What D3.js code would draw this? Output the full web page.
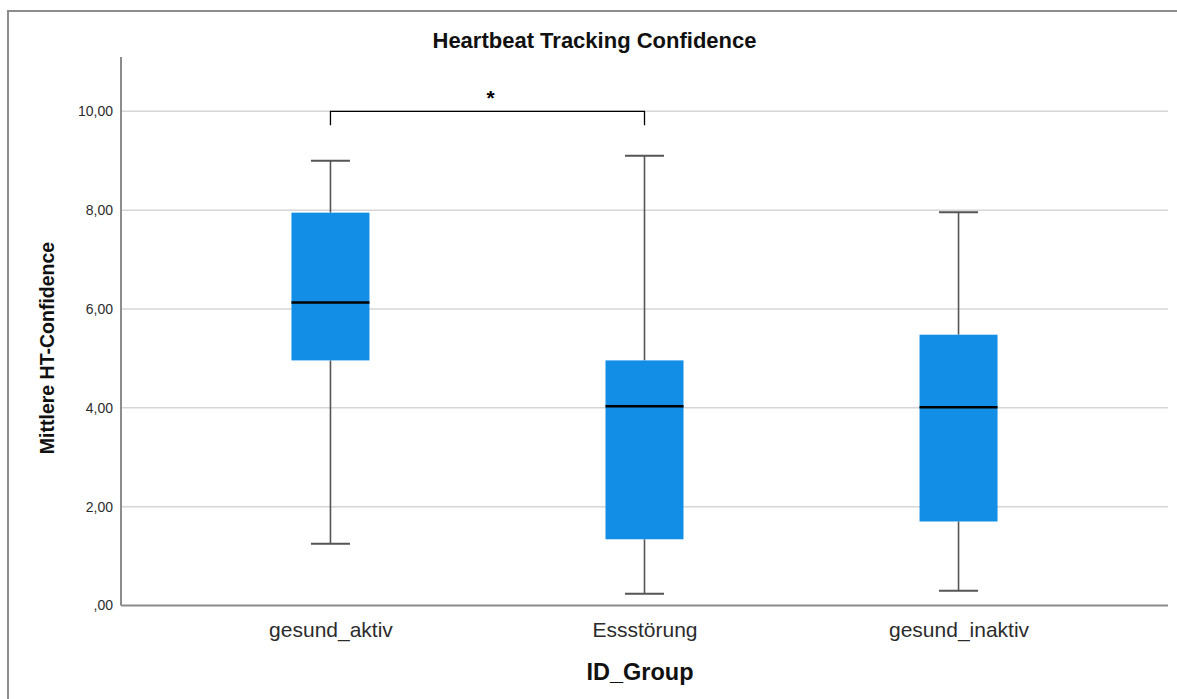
<!DOCTYPE html>
<html>
<head>
<meta charset="utf-8">
<script src="https://cdn.jsdelivr.net/npm/d3@7"></script>
<style>
  html, body { margin: 0; padding: 0; background: #fff; }
  svg { display: block; font-family: "Liberation Sans", Arial, sans-serif; }
</style>
</head>
<body>
<svg id="chart" width="1177" height="699"></svg>
<script>
// Group names on the x axis
const groups = ["gesund_aktiv", "Essstörung", "gesund_inaktiv"];
// Five-number summaries per group (whisker low, Q1, median, Q3, whisker high)
const whiskerLow  = [1.25, 0.24, 0.30];
const q1          = [4.96, 1.34, 1.70];
const median      = [6.13, 4.03, 4.01];
const q3          = [7.95, 4.96, 5.48];
const whiskerHigh = [9.00, 9.10, 7.96];
// Y tick values and their German-formatted labels
const yTicks = [0, 2, 4, 6, 8, 10];
const yTickLabels = [",00", "2,00", "4,00", "6,00", "8,00", "10,00"];
// Significance bracket between the first two groups
const bracketPair = ["gesund_aktiv", "Essstörung"];
const bracketLevel = 10;
const bracketMark = "*";

const svg = d3.select("#chart");
const plot = { left: 121, right: 1168, top: 57, bottom: 605.5 };

// Outer frame
svg.append("rect")
  .attr("x", 8).attr("y", 11)
  .attr("width", 1173).attr("height", 700)
  .attr("fill", "none").attr("stroke", "#8c8c8c").attr("stroke-width", 2);

const x = d3.scalePoint()
  .domain(groups)
  .range([plot.left, plot.right])
  .padding(0.667);

const y = d3.scaleLinear()
  .domain([0, 11.1])
  .range([plot.bottom, plot.top]);

// Horizontal gridlines
svg.append("g")
  .selectAll("line")
  .data(yTicks.filter(d => d > 0))
  .join("line")
  .attr("x1", plot.left).attr("x2", plot.right)
  .attr("y1", d => y(d)).attr("y2", d => y(d))
  .attr("stroke", "#d6d6d6").attr("stroke-width", 1.5);

// Y axis
const yAxis = d3.axisLeft(y)
  .tickValues(yTicks)
  .tickSize(0)
  .tickPadding(8)
  .tickFormat((d, i) => yTickLabels[i]);
const gy = svg.append("g")
  .attr("transform", `translate(${plot.left},0)`)
  .call(yAxis);
gy.select(".domain").remove();
gy.selectAll("text")
  .attr("font-size", 14)
  .attr("fill", "#2b2b2b")
  .attr("font-family", "'Liberation Sans', Arial, sans-serif");
svg.append("line")
  .attr("x1", plot.left).attr("x2", plot.left)
  .attr("y1", plot.top).attr("y2", plot.bottom)
  .attr("stroke", "#8c8c8c").attr("stroke-width", 2);

// X axis
const xAxis = d3.axisBottom(x).tickSize(0).tickPadding(17);
const gx = svg.append("g")
  .attr("transform", `translate(0,${plot.bottom})`)
  .call(xAxis);
gx.select(".domain").remove();
gx.selectAll("text")
  .attr("font-size", 21)
  .attr("fill", "#2b2b2b")
  .attr("font-family", "'Liberation Sans', Arial, sans-serif");
svg.append("line")
  .attr("x1", plot.left).attr("x2", plot.right)
  .attr("y1", plot.bottom).attr("y2", plot.bottom)
  .attr("stroke", "#8c8c8c").attr("stroke-width", 2);

// Box plots
const boxW = 78, capW = 39;
const boxes = svg.append("g").selectAll("g")
  .data(groups.map((g, i) => ({
    g, lo: whiskerLow[i], q1: q1[i], med: median[i], q3: q3[i], hi: whiskerHigh[i]
  })))
  .join("g")
  .attr("transform", d => `translate(${x(d.g)},0)`);

boxes.append("line")
  .attr("x1", 0).attr("x2", 0)
  .attr("y1", d => y(d.hi)).attr("y2", d => y(d.q3))
  .attr("stroke", "#555").attr("stroke-width", 1.6);
boxes.append("line")
  .attr("x1", 0).attr("x2", 0)
  .attr("y1", d => y(d.q1)).attr("y2", d => y(d.lo))
  .attr("stroke", "#555").attr("stroke-width", 1.6);
boxes.append("line")
  .attr("x1", -capW / 2).attr("x2", capW / 2)
  .attr("y1", d => y(d.hi)).attr("y2", d => y(d.hi))
  .attr("stroke", "#555").attr("stroke-width", 2);
boxes.append("line")
  .attr("x1", -capW / 2).attr("x2", capW / 2)
  .attr("y1", d => y(d.lo)).attr("y2", d => y(d.lo))
  .attr("stroke", "#555").attr("stroke-width", 2);
boxes.append("rect")
  .attr("x", -boxW / 2).attr("width", boxW)
  .attr("y", d => y(d.q3))
  .attr("height", d => y(d.q1) - y(d.q3))
  .attr("fill", "#138ee6");
boxes.append("line")
  .attr("x1", -boxW / 2).attr("x2", boxW / 2)
  .attr("y1", d => y(d.med)).attr("y2", d => y(d.med))
  .attr("stroke", "#000").attr("stroke-width", 2.5);

// Significance bracket
const bx0 = x(bracketPair[0]), bx1 = x(bracketPair[1]), by = y(bracketLevel);
svg.append("path")
  .attr("d", `M${bx0},${by + 14}V${by}H${bx1}V${by + 14}`)
  .attr("fill", "none").attr("stroke", "#000").attr("stroke-width", 1.3);
svg.append("text")
  .attr("x", (bx0 + bx1) / 2 + 3).attr("y", by - 6)
  .attr("text-anchor", "middle")
  .attr("font-size", 21).attr("font-weight", "bold")
  .text(bracketMark);

// Title
svg.append("text")
  .attr("x", 594.5).attr("y", 48)
  .attr("text-anchor", "middle")
  .attr("font-size", 22).attr("font-weight", "bold").attr("fill", "#111")
  .text("Heartbeat Tracking Confidence");

// Axis titles
svg.append("text")
  .attr("x", 640).attr("y", 680)
  .attr("text-anchor", "middle")
  .attr("font-size", 23.5).attr("font-weight", "bold").attr("fill", "#111")
  .text("ID_Group");

svg.append("text")
  .attr("transform", "translate(54,348) rotate(-90)")
  .attr("text-anchor", "middle")
  .attr("font-size", 19.5).attr("font-weight", "bold").attr("fill", "#111")
  .text("Mittlere HT-Confidence");
</script>
</body>
</html>
